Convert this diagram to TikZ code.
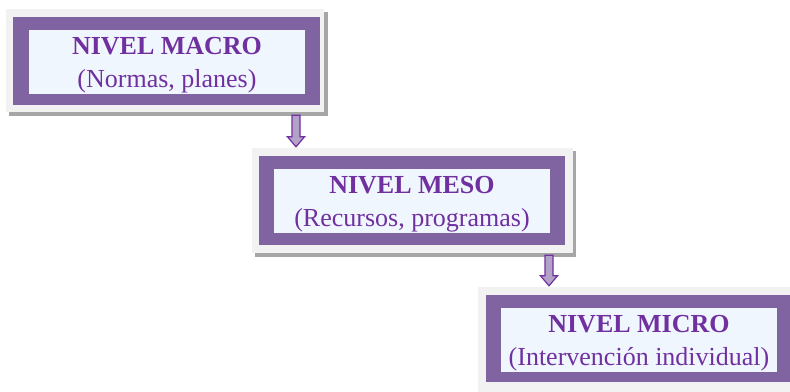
\documentclass[tikz,border=0pt]{standalone}
\usepackage{fontspec}
\setmainfont{Liberation Serif}
\usetikzlibrary{calc}
\definecolor{framepurple}{HTML}{8064A2}
\definecolor{textpurple}{HTML}{7030A0}
\definecolor{innerfill}{HTML}{EFF6FD}
\definecolor{outergrey}{HTML}{F2F2F2}
\definecolor{shadowgrey}{HTML}{A6A6A6}
\definecolor{arrowfill}{HTML}{B3A2C7}
\tikzset{
  x=1pt, y=-1pt,
  shadowrect/.style={fill=shadowgrey, draw=none},
  outerrect/.style={fill=outergrey, draw=none},
  framerect/.style={fill=framepurple, draw=none},
  levelbox/.style={fill=innerfill, draw=none, inner sep=0pt,
    minimum width=276pt, minimum height=64pt, align=center,
    text=textpurple, font=\fontsize{26}{32.5}\selectfont},
  downarrow/.style={fill=arrowfill, draw=textpurple, line width=1.2pt, line join=miter}
}
% taller first line so both lines sit a little lower in the box
\newcommand{\topstrut}{\rule{0pt}{23.5pt}}
% block arrow: shaft 8 wide, head 17 wide and 10 long
\newcommand{\blockarrow}[2]{%
  \path[downarrow] let \p1=(#1), \p2=(#2) in
    (\x1-4pt,\y1) -- (\x1+4pt,\y1) -- (\x1+4pt,\y2+10pt) -- (\x1+8.5pt,\y2+10pt)
    -- (\x2,\y2) -- (\x1-8.5pt,\y2+10pt) -- (\x1-4pt,\y2+10pt) -- cycle;}
\begin{document}
\begin{tikzpicture}
\useasboundingbox[fill=white] (0,0) rectangle (790,391);

% macro level
\fill[shadowrect] (9,12) rectangle (328,116);
\fill[outerrect] (6,9) rectangle (324,112);
\fill[framerect] (13,17) rectangle (320,105);
\node[levelbox] (macro) at (167,62) {\topstrut\textbf{NIVEL MACRO}\\(Normas, planes)};

% meso level
\fill[shadowrect] (255,151) rectangle (576,257);
\fill[outerrect] (252,148) rectangle (573,253);
\fill[framerect] (259,156) rectangle (565,245);
\node[levelbox] (meso) at (412,201) {\topstrut\textbf{NIVEL MESO}\\(Recursos, programas)};

% micro level
\fill[outerrect] (478,287) rectangle (800,395);
\fill[framerect] (486,295) rectangle (792,382);
\node[levelbox] (micro) at (639,340) {\topstrut\textbf{NIVEL MICRO}\\(Intervención individual)};

% connecting arrows
\coordinate (a1s) at ($(macro.south)+(129,21)$);
\coordinate (a1e) at ($(meso.north)+(-116,-22)$);
\blockarrow{a1s}{a1e}
\coordinate (a2s) at ($(meso.south)+(137,22)$);
\coordinate (a2e) at ($(micro.north)+(-90,-22)$);
\blockarrow{a2s}{a2e}
\end{tikzpicture}
\end{document}
